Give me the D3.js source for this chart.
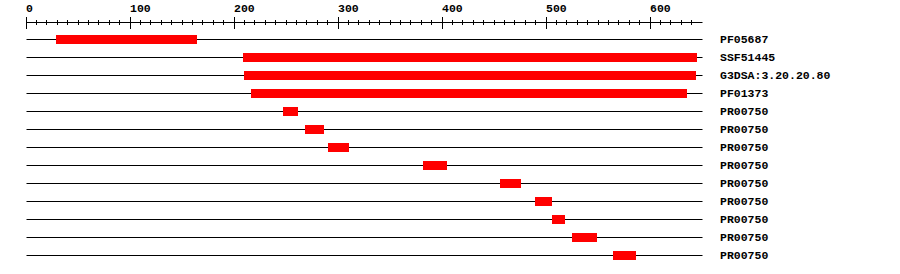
<!DOCTYPE html>
<html><head><meta charset="utf-8">
<script src="https://cdn.jsdelivr.net/npm/d3@7"></script>
<style>body{margin:0;background:#fff}svg{display:block}</style>
</head><body>
<script>
const labels = ["PF05687","SSF51445","G3DSA:3.20.20.80","PF01373","PR00750","PR00750","PR00750","PR00750","PR00750","PR00750","PR00750","PR00750","PR00750"];
const starts = [29, 209, 210, 216, 247, 268, 290, 382, 456, 489, 506, 525, 564];
const ends   = [164, 645, 644, 636, 262, 287, 311, 405, 476, 506, 518, 549, 587];
const seqLength = 650;
const majorTicks = [0, 100, 200, 300, 400, 500, 600];

const W = 900, H = 274;
const svg = d3.select("body").append("svg").attr("width", W).attr("height", H);
const x = d3.scaleLinear().domain([0, seqLength]).range([26, 26 + seqLength * 1.04]);
const px = v => Math.floor(x(v)) + 0.5;
const font = "'Liberation Mono', 'DejaVu Sans Mono', monospace";

// axis
const ax = svg.append("g");
ax.append("line").attr("x1", px(0)).attr("x2", px(seqLength)).attr("y1", 22.5).attr("y2", 22.5)
  .attr("stroke", "#000");
const minor = d3.range(0, seqLength, 10);
ax.selectAll("line.minor").data(minor.filter(v => v % 100 !== 0)).enter().append("line")
  .attr("class", "minor").attr("x1", d => px(d)).attr("x2", d => px(d))
  .attr("y1", 20).attr("y2", 25).attr("stroke", "#000");
ax.selectAll("line.major").data(majorTicks).enter().append("line")
  .attr("class", "major").attr("x1", d => px(d)).attr("x2", d => px(d))
  .attr("y1", 17).attr("y2", 29).attr("stroke", "#000");
ax.selectAll("text").data(majorTicks).enter().append("text")
  .attr("x", d => Math.floor(x(d))).attr("y", 12)
  .attr("font-family", font).attr("font-weight", "bold").attr("font-size", 11.5)
  .text(d => d);

// rows
const rowY = i => 39.5 + i * 18;
const rows = svg.selectAll("g.row").data(labels).enter().append("g").attr("class", "row");
rows.append("line").attr("x1", px(0)).attr("x2", px(seqLength))
  .attr("y1", (d, i) => rowY(i)).attr("y2", (d, i) => rowY(i)).attr("stroke", "#000");
rows.append("rect")
  .attr("x", (d, i) => Math.round(x(starts[i])))
  .attr("width", (d, i) => Math.round(x(ends[i])) - Math.round(x(starts[i])))
  .attr("y", (d, i) => rowY(i) - 4.5).attr("height", 9)
  .attr("fill", "#ff0000");
rows.append("text").attr("x", 720).attr("y", (d, i) => rowY(i) + 3.5)
  .attr("font-family", font).attr("font-weight", "bold").attr("font-size", 11.5)
  .text(d => d);
</script>
</body></html>
